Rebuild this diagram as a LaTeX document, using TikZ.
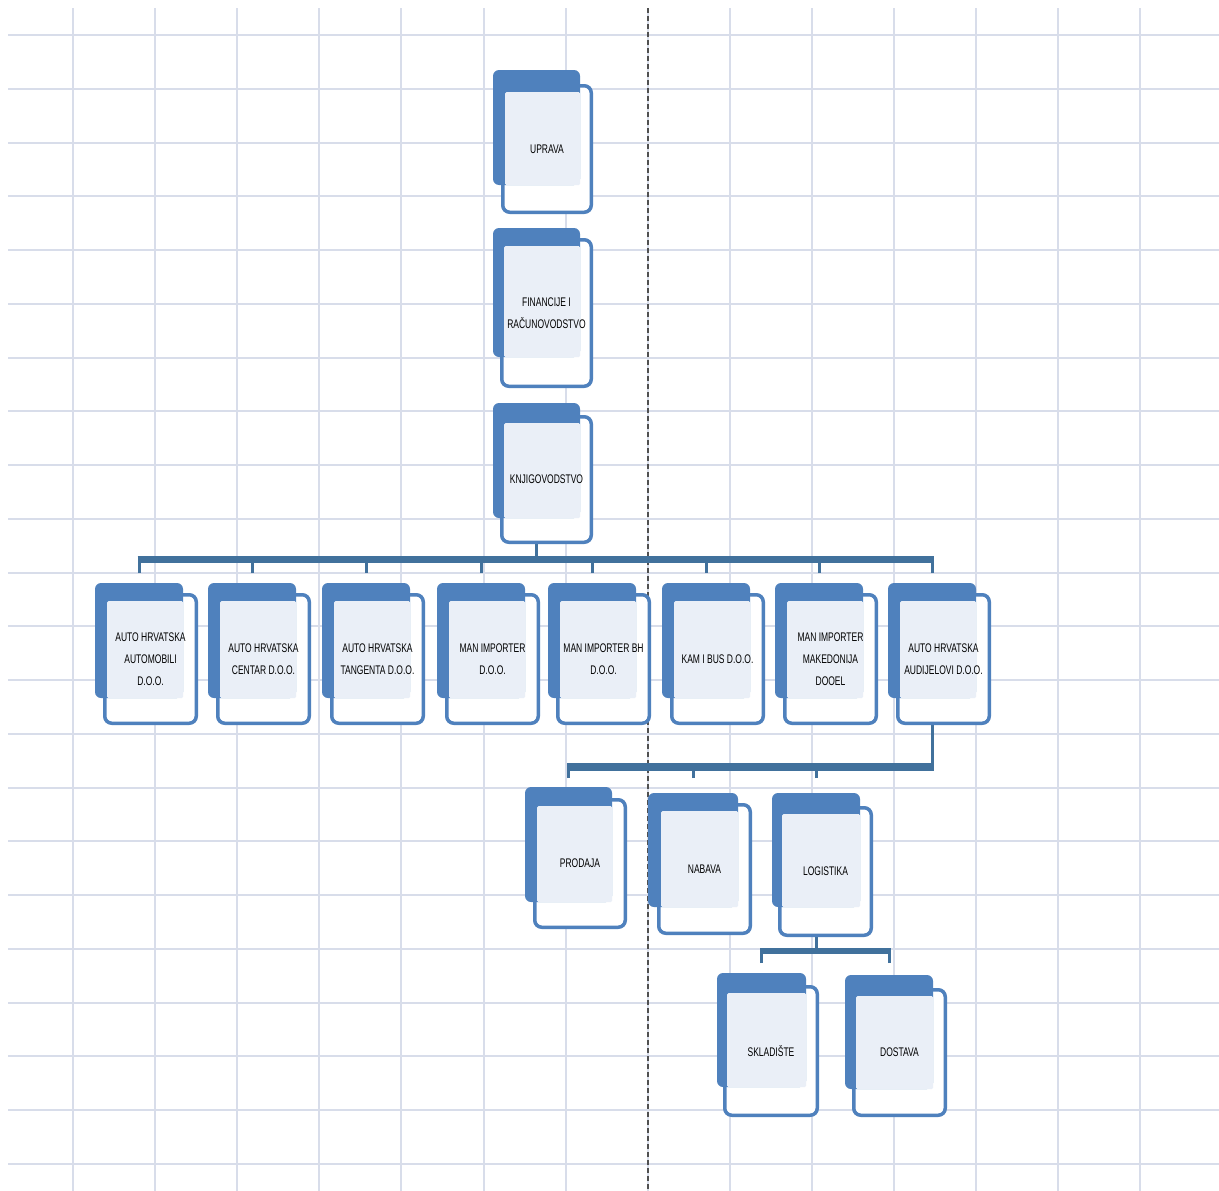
\documentclass[tikz,border=0pt]{standalone}
\usepackage{fontspec}
\newfontfamily\cardfont[FakeStretch=0.68]{Liberation Sans}
\usetikzlibrary{fit}
\definecolor{cardblue}{HTML}{4F81BD}
\definecolor{connblue}{HTML}{41719C}
\definecolor{cardlight}{HTML}{EAEFF7}
\definecolor{gridc}{HTML}{D8DDEA}
\definecolor{dashc}{HTML}{505050}
\pgfdeclarelayer{gridlayer}
\pgfdeclarelayer{connlayer}
\pgfsetlayers{gridlayer,connlayer,main}
\tikzset{
  backbox/.style={fill=cardblue, rounded corners=6pt, inner sep=0pt},
  frontbox/.style={draw=cardblue, line width=3.5pt, fill=white, rounded corners=7pt, inner sep=-1.75pt},
  innerfill/.style={fill=cardlight, rounded corners=1.5pt},
  cardtext/.style={font=\cardfont\fontsize{12.5}{22}\selectfont, align=center, text=black, inner sep=0pt},
  bus/.style={draw=connblue, line width=6.5pt, shorten <=-1.5pt, shorten >=-1.5pt},
  drop/.style={draw=connblue, line width=3pt},
  gridline/.style={draw=gridc, line width=2pt},
  divider/.style={draw=dashc, line width=1.2pt, dash pattern=on 5pt off 3pt},
}
% #1 name, #2 #3 back corners, #4 #5 front corners, #6 text
\newcommand\orgcard[6]{%
  \node[frontbox, fit={#4 #5}] (#1) {};
  \node[backbox, fit={#2 #3}] (#1b) {};
  \fill[innerfill] ([xshift=4pt,yshift=-8pt]#1.north west) rectangle (#1b.south east);
  \node[cardtext] (#1t) at (#1.center) {#6};
}
\begin{document}
\begin{tikzpicture}[x=1pt,y=-1pt]
\useasboundingbox (0,0) rectangle (1219,1191);

% cards
\orgcard{upr}{(493,70)}{(580,185)}{(501,84)}{(593,214)}{UPRAVA}
\orgcard{fin}{(493,228)}{(580,357)}{(500,238)}{(593,388)}{FINANCIJE I\\RAČUNOVODSTVO}
\orgcard{knj}{(493,403)}{(580,518)}{(500,415)}{(593,544)}{KNJIGOVODSTVO}

\orgcard{c1}{(95,583)}{(183,698)}{(103,593)}{(198,725)}{AUTO HRVATSKA\\AUTOMOBILI\\D.O.O.}
\orgcard{c2}{(208,583)}{(296,698)}{(216,593)}{(311,725)}{AUTO HRVATSKA\\CENTAR D.O.O.}
\orgcard{c3}{(322,583)}{(410,698)}{(330,593)}{(425,725)}{AUTO HRVATSKA\\TANGENTA D.O.O.}
\orgcard{c4}{(437,583)}{(525,698)}{(445,593)}{(540,725)}{MAN IMPORTER\\D.O.O.}
\orgcard{c5}{(548,583)}{(636,698)}{(556,593)}{(651,725)}{MAN IMPORTER BH\\D.O.O.}
\orgcard{c6}{(662,583)}{(750,698)}{(670,593)}{(765,725)}{KAM I BUS D.O.O.}
\orgcard{c7}{(775,583)}{(863,698)}{(783,593)}{(878,725)}{MAN IMPORTER\\MAKEDONIJA\\DOOEL}
\orgcard{c8}{(888,583)}{(976,698)}{(896,593)}{(991,725)}{AUTO HRVATSKA\\AUDIJELOVI D.O.O.}

\orgcard{pro}{(525,787)}{(612,902)}{(533,798)}{(627,929)}{PRODAJA}
\orgcard{nab}{(648,793)}{(738,907)}{(657,803)}{(752,935)}{NABAVA}
\orgcard{log}{(772,793)}{(860,907)}{(778,806)}{(873,937)}{LOGISTIKA}

\orgcard{skl}{(717,973)}{(806,1087)}{(723,985)}{(819,1117)}{SKLADIŠTE}
\orgcard{dos}{(845,975)}{(933,1089)}{(852,988)}{(947,1117)}{DOSTAVA}

% background and grid
\begin{pgfonlayer}{gridlayer}
  \fill[white] (0,0) rectangle (1219,1191);
  \foreach \k in {0,...,21}
    \draw[gridline] (8,{35+53.76*\k}) -- (1219,{35+53.76*\k});
  \foreach \k in {0,...,13}
    \draw[gridline] ({73+82.1*\k},8) -- ({73+82.1*\k},1191);
  \draw[divider] (648,8) -- (648,1191);
\end{pgfonlayer}

% connectors
\begin{pgfonlayer}{connlayer}
  \coordinate (bus1) at (0,559.5);
  \coordinate (end1) at (0,573);
  \draw[drop] (knjb.south) -- (knjb.south |- bus1);
  \foreach \c in {c1,c2,c3,c4,c5,c6,c7,c8}
    \draw[drop] (\c b.north |- end1) -- (\c b.north |- bus1);
  \draw[bus] (c1b.north |- bus1) -- (c8b.north |- bus1);

  \coordinate (bus2) at (0,767);
  \coordinate (end2) at (0,778);
  \draw[drop] (c8b.south) -- (c8b.south |- bus2);
  \foreach \c in {pro,nab,log}
    \draw[drop] (\c b.north |- end2) -- (\c b.north |- bus2);
  \draw[bus, line width=7.5pt] (prob.north |- bus2) -- (c8b.north |- bus2);

  \coordinate (bus3) at (0,951);
  \coordinate (end3) at (0,963);
  \draw[drop] (logb.south) -- (logb.south |- bus3);
  \foreach \c in {skl,dos}
    \draw[drop] (\c b.north |- end3) -- (\c b.north |- bus3);
  \draw[bus] (sklb.north |- bus3) -- (dosb.north |- bus3);
\end{pgfonlayer}
\end{tikzpicture}
\end{document}
